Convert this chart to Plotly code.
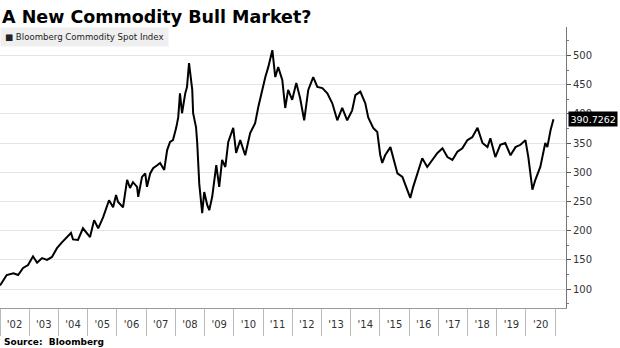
import plotly.graph_objects as go
import pandas as pd

# decimal-year time points and index values
years = [
    2002.00, 2002.11, 2002.23, 2002.46, 2002.62, 2002.79, 2002.96, 2003.13, 2003.27, 2003.44,
    2003.61, 2003.78, 2003.95, 2004.12, 2004.29, 2004.43, 2004.50, 2004.67, 2004.84, 2004.98,
    2005.08, 2005.22, 2005.36, 2005.53, 2005.73, 2005.87, 2005.97, 2006.04, 2006.21, 2006.35,
    2006.45, 2006.55, 2006.69, 2006.73, 2006.86, 2006.97, 2007.03, 2007.14, 2007.24, 2007.38,
    2007.48, 2007.62, 2007.72, 2007.82, 2007.92, 2008.03, 2008.10, 2008.16, 2008.23, 2008.34,
    2008.40, 2008.47, 2008.58, 2008.61, 2008.71, 2008.75, 2008.82, 2008.92, 2008.99, 2009.09,
    2009.16, 2009.26, 2009.40, 2009.50, 2009.60, 2009.71, 2009.81, 2009.98, 2010.08, 2010.22,
    2010.39, 2010.56, 2010.73, 2010.84, 2010.97, 2011.08, 2011.18, 2011.32, 2011.42, 2011.52,
    2011.66, 2011.76, 2011.86, 2012.00, 2012.14, 2012.27, 2012.41, 2012.55, 2012.72, 2012.86,
    2013.03, 2013.20, 2013.37, 2013.54, 2013.71, 2013.88, 2014.05, 2014.16, 2014.33, 2014.50,
    2014.60, 2014.77, 2014.91, 2015.01, 2015.08, 2015.18, 2015.36, 2015.46, 2015.60, 2015.77,
    2015.94, 2016.04, 2016.14, 2016.32, 2016.45, 2016.62, 2016.79, 2016.97, 2017.14, 2017.31,
    2017.48, 2017.65, 2017.82, 2017.99, 2018.16, 2018.34, 2018.51, 2018.68, 2018.78, 2018.95,
    2019.12, 2019.29, 2019.47, 2019.64, 2019.81, 2019.98, 2020.08, 2020.22, 2020.32, 2020.49,
    2020.66, 2020.73, 2020.84, 2020.94,
]
values = [
    106, 115, 124, 127, 124, 136, 141, 156, 145, 153,
    150, 155, 170, 180, 189, 196, 185, 184, 204, 196,
    189, 218, 204, 223, 252, 240, 261, 249, 240, 287,
    273, 283, 275, 258, 292, 298, 275, 298, 307, 312,
    316, 304, 338, 352, 355, 376, 394, 435, 401, 435,
    446, 487, 441, 401, 377, 350, 280, 230, 266, 244,
    235, 258, 312, 275, 321, 309, 352, 376, 333, 355,
    329, 367, 384, 412, 441, 463, 480, 509, 463, 480,
    458, 410, 441, 424, 453, 427, 389, 441, 463, 446,
    444, 435, 418, 389, 410, 389, 406, 432, 438, 418,
    394, 376, 369, 330, 316, 329, 343, 326, 298, 292,
    270, 256, 275, 304, 324, 309, 321, 333, 341, 326,
    321, 335, 341, 355, 360, 376, 350, 343, 358, 326,
    347, 350, 329, 343, 347, 355, 326, 270, 287, 309,
    350, 343, 372, 390.7262,
]
series_name = "Bloomberg Commodity Spot Index"
last_label = "390.7262"
y_ticks = [100, 150, 200, 250, 300, 350, 400, 450, 500]


def to_date(y):
    yr = int(y)
    start = pd.Timestamp(year=yr, month=1, day=1)
    return start + pd.Timedelta(days=(y - yr) * 365.25)


dates = [to_date(y) for y in years]

fig = go.Figure()
fig.add_trace(go.Scatter(
    x=dates, y=values, mode="lines",
    line=dict(color="black", width=2),
    name=series_name, showlegend=False,
))

grid = "#e4e4e4"
fig.update_layout(
    width=620, height=348,
    margin=dict(l=0, r=54, t=27, b=40),
    paper_bgcolor="white", plot_bgcolor="white",
    font=dict(family="DejaVu Sans", size=10, color="#333333"),
    xaxis=dict(
        type="date",
        range=["2002-01-01", "2021-05-15"],
        dtick="M12", tick0="2002-01-01",
        tickformat="'%y",
        ticklabelmode="period",
        ticks="outside", ticklen=27, tickcolor="#bbbbbb", tickwidth=1,
        ticklabelstandoff=-20,
        showgrid=False,
        showline=True, linecolor="#999999", linewidth=1,
        tickfont=dict(size=10, color="#333333"),
        minor=dict(dtick="M24", tick0="2002-01-01", showgrid=True,
                   gridcolor=grid, gridwidth=1, ticks=""),
        zeroline=False,
    ),
    yaxis=dict(
        side="right",
        range=[67.5, 548.7],
        tickvals=y_ticks,
        ticks="outside", ticklen=4, tickcolor="#555555",
        showgrid=True, gridcolor=grid, gridwidth=1,
        showline=True, linecolor="#777777", linewidth=1,
        tickfont=dict(size=10, color="#333333"),
        minor=dict(dtick=25, tick0=0, ticks="outside", ticklen=2,
                   tickcolor="#777777", showgrid=False),
        zeroline=False,
    ),
)

fig.add_annotation(
    xref="paper", yref="paper", x=0, y=1, xanchor="left", yanchor="top",
    text="■ " + series_name, showarrow=False,
    bgcolor="#efefef", borderpad=4,
    font=dict(family="DejaVu Sans", size=8.6, color="#222222"),
)
fig.add_annotation(
    xref="paper", yref="y", x=1, y=values[-1], xanchor="left", yanchor="middle",
    xshift=2, text=last_label, showarrow=False,
    bgcolor="black", borderpad=1.5,
    font=dict(family="DejaVu Sans", size=9.5, color="white"),
)
fig.add_annotation(
    xref="paper", yref="paper", x=0, y=1, xanchor="left", yanchor="bottom",
    yshift=-2, text="<b>A New Commodity Bull Market?</b>", showarrow=False,
    font=dict(family="DejaVu Sans", size=17.5, color="black"),
)
fig.add_annotation(
    xref="paper", yref="paper", x=0, y=0, xanchor="left", yanchor="top",
    xshift=2, yshift=-27, text="<b>Source:  Bloomberg</b>", showarrow=False,
    font=dict(family="DejaVu Sans", size=9, color="black"),
)

fig.write_html("out.html")
